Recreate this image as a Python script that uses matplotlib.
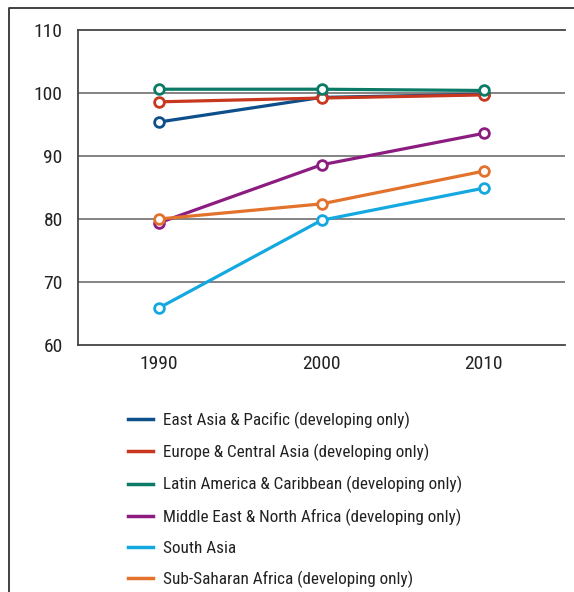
import matplotlib
matplotlib.use('Agg')
import matplotlib.pyplot as plt
from matplotlib.lines import Line2D

plt.rcParams['font.family'] = ['Roboto Condensed', 'Liberation Sans', 'DejaVu Sans']

years = [1990, 2000, 2010]
regions = [
    'East Asia & Pacific (developing only)',
    'Europe & Central Asia (developing only)',
    'Latin America & Caribbean (developing only)',
    'Middle East & North Africa (developing only)',
    'South Asia',
    'Sub-Saharan Africa (developing only)',
]
east_asia = [95.4, 99.3, 99.8]
europe = [98.6, 99.2, 99.7]
latin_america = [100.6, 100.6, 100.4]
mena = [79.4, 88.6, 93.6]
south_asia = [65.9, 79.8, 84.9]
ssa = [80.0, 82.4, 87.6]
series = [east_asia, europe, latin_america, mena, south_asia, ssa]
colors = ['#0d4f8b', '#c9371f', '#0b7a66', '#8c1c80', '#14a8e0', '#e3722c']
yticks = [60, 70, 80, 90, 100, 110]

W, H = 574, 592
fig = plt.figure(figsize=(W / 100, H / 100), dpi=100)
ax = fig.add_axes([78 / W, 1 - 345 / H, (565 - 78) / W, (345 - 30) / H])

# lower lines first so the top ones sit over them
order = [4, 5, 3, 1, 0, 2]
for i in order:
    ax.plot(years, series[i], color=colors[i], lw=2.3, marker='o', ms=7,
            mfc='white', mec=colors[i], mew=2, zorder=3 + i * 0.1)

ax.set_xlim(1985, 2015)
ax.set_ylim(60, 110)
ax.set_xticks(years)
ax.set_yticks(yticks)
ax.tick_params(length=0, labelsize=14, colors='#222222')
ax.tick_params(axis='y', pad=11)
ax.tick_params(axis='x', pad=7)
for y in [70, 80, 90, 100]:
    ax.axhline(y, color='#7a7a7a', lw=1.3, zorder=1)
ax.spines['right'].set_visible(False)
for s in ['top', 'bottom', 'left']:
    ax.spines[s].set_color('#444444')
    ax.spines[s].set_linewidth(1.3)

handles = [Line2D([], [], color=c, lw=2.5) for c in colors]
fig.legend(handles, regions, loc='upper left', bbox_to_anchor=(119 / W, 1 - 403 / H),
           frameon=False, fontsize=12.3, handlelength=1.5, handletextpad=0.55,
           labelspacing=0.88, borderpad=0, labelcolor='#222222')

# outer frame, left and top edges
fig.add_artist(Line2D([9 / W, 9 / W, 1], [0, 1 - 8 / H, 1 - 8 / H],
                      transform=fig.transFigure, color='#333333', lw=1.3))

fig.savefig('out.png', dpi=100)
